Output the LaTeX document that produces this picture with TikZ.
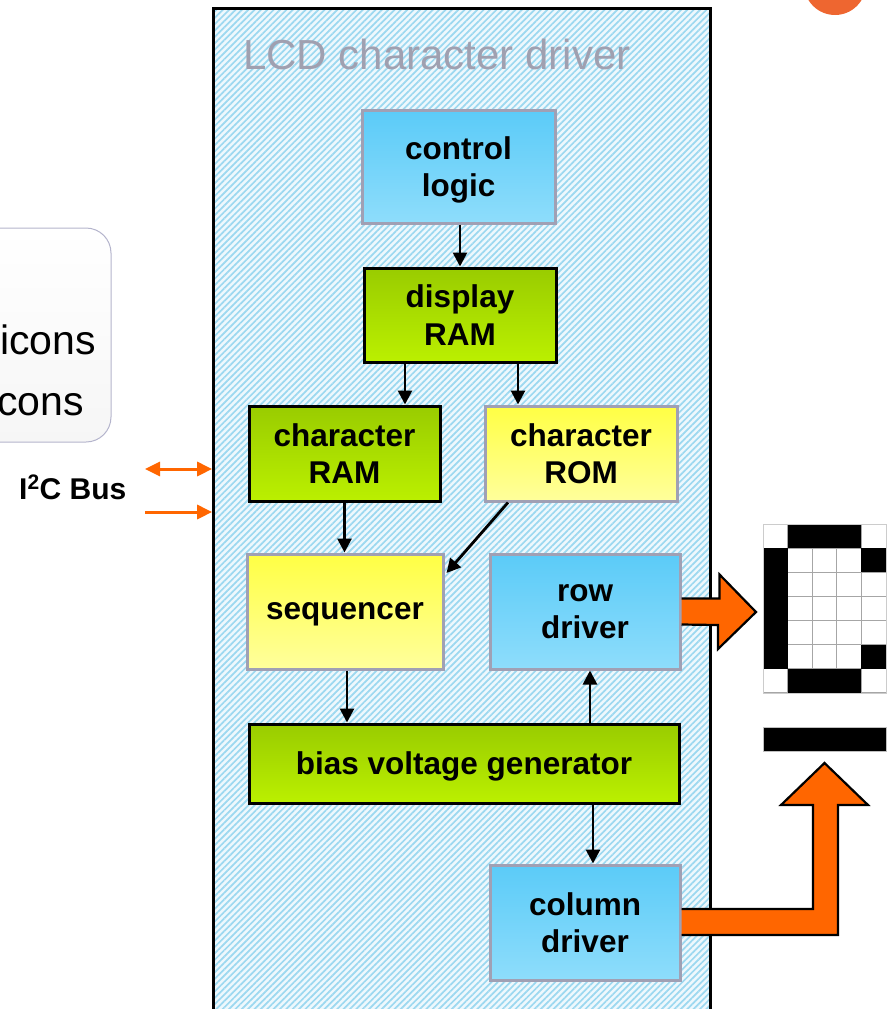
\documentclass[tikz,border=0pt]{standalone}
\usepackage{fontspec}
\setmainfont{Liberation Sans}
\usetikzlibrary{arrows.meta,patterns.meta}
\definecolor{blueT}{HTML}{5BCBF8}
\definecolor{blueB}{HTML}{8EDDFB}
\definecolor{greenT}{HTML}{99CC00}
\definecolor{greenB}{HTML}{BBF000}
\definecolor{yelT}{HTML}{FFFF44}
\definecolor{yelB}{HTML}{FFFF9C}
\definecolor{boxgray}{HTML}{A0A0B4}
\definecolor{titlegray}{HTML}{A0A0B0}
\definecolor{hatchblue}{HTML}{9CD8F0}
\definecolor{hatchbase}{HTML}{EEF8FD}
\definecolor{orng}{HTML}{FF6600}
\definecolor{dotorange}{HTML}{EE6630}
\definecolor{roundgray}{HTML}{B4B4CC}
\tikzset{
  blk/.style={draw, line width=3pt, align=center, inner sep=0pt, text depth=-5pt,
    font=\fontsize{31.5}{37.5}\selectfont\bfseries},
  oneline/.style={text depth=-12pt},
  bluebox/.style={blk, draw=boxgray, top color=blueT, bottom color=blueB},
  greenbox/.style={blk, draw=black, top color=greenT, bottom color=greenB},
  yelbox/.style={blk, draw=boxgray, top color=yelT, bottom color=yelB},
  arr/.style={line width=2.8pt, -{Triangle[length=14pt,width=14pt]}},
  busarr/.style={draw=orng, line width=3pt},
  bigarrow/.style={fill=orng, draw=black, line width=2.2pt, line join=miter},
  cell/.style={fill=white, draw=gray!70, line width=1pt},
}
\begin{document}
\begin{tikzpicture}[x=1pt,y=-1pt]
\useasboundingbox (0,0) rectangle (887,1009);

% left rounded box (clipped by page)
\draw[rounded corners=25pt, draw=roundgray, line width=1pt, top color=white, bottom color=gray!7]
  (-200,228) rectangle (111,442);
\node[anchor=base east, inner sep=0pt, font=\fontsize{41}{48}\selectfont] (icA) at (96,354) {icons};
\node[anchor=base east, inner sep=0pt, font=\fontsize{41}{48}\selectfont] (icB) at (84,415) {cons};

% orange dot at top right
\fill[dotorange] (835,-16) circle (31);

% main driver box
\node[draw=black, line width=3pt, minimum width=497pt, minimum height=1030pt, inner sep=0pt,
      preaction={fill=hatchbase},
      pattern={Lines[angle=45,distance=4.5pt,line width=1.7pt]}, pattern color=hatchblue]
      (drv) at (461.5,523) {};
\node[anchor=base west, inner sep=0pt, text=titlegray, font=\fontsize{42}{50}\selectfont]
  (title) at (243,69) {LCD character driver};

% I2C bus
\node[anchor=base west, inner sep=0pt, font=\fontsize{30}{34}\selectfont\bfseries]
  (bus) at (19,499) {I\textsuperscript{2}C Bus};
\coordinate (busA) at (145,469);
\coordinate (busB) at (145,512);
\draw[busarr, {Triangle[length=15pt,width=14pt]}-{Triangle[length=15pt,width=14pt]}]
  (busA) -- (busA -| drv.west);
\draw[busarr, -{Triangle[length=15pt,width=14pt]}] (busB) -- (busB -| drv.west);

% blocks
\node[bluebox, minimum width=193pt, minimum height=113pt] (ctrl) at (458.5,166.5) {control\\logic};
\node[greenbox, minimum width=192pt, minimum height=94pt] (dram) at (460,315) {display\\RAM};
\node[greenbox, minimum width=191pt, minimum height=95pt] (cram) at (344.5,453.5) {character\\RAM};
\node[yelbox, minimum width=192pt, minimum height=95pt] (crom) at (581,453.5) {character\\ROM};
\node[yelbox, oneline, minimum width=196pt, minimum height=115pt] (seq) at (345,611.5) {sequencer};
\node[bluebox, minimum width=190pt, minimum height=115pt] (row) at (585,611.5) {row\\driver};
\node[greenbox, oneline, minimum width=430pt, minimum height=79pt] (bias) at (464,763.5) {bias voltage generator};
\node[bluebox, minimum width=190pt, minimum height=115pt] (col) at (585,922.5) {column\\driver};

% black connectors
\draw[arr] ([xshift=1.5pt]ctrl.south) -- ([xshift=0pt]dram.north);
\draw[arr] ([xshift=-55pt]dram.south) -- ([xshift=60.5pt]cram.north);
\draw[arr] ([xshift=58pt]dram.south) -- ([xshift=-63pt]crom.north);
\draw[arr] (cram.south) -- (cram.south |- seq.north);
\draw[arr] ([xshift=-73pt]crom.south) -- ([xshift=2pt,yshift=38.5pt]seq.east);
\draw[arr] ([xshift=2pt]seq.south) -- ([xshift=2pt]seq.south |- bias.north);
\draw[arr] ([xshift=5pt]row.south |- bias.north) -- ([xshift=5pt]row.south);
\draw[arr] ([xshift=8pt]col.north |- bias.south) -- ([xshift=8pt]col.north);

% LCD character grid
\foreach \r in {0,...,6}
  \foreach \c in {0,...,4}
    \draw[cell] ({763+\c*24.6},{524+\r*24.14}) rectangle ++(24.6,24.14);
\foreach \c/\r in {1/0,2/0,3/0,0/1,4/1,0/2,0/3,0/4,0/5,4/5,1/6,2/6,3/6}
  \fill[black] ({763+\c*24.6},{524+\r*24.14}) rectangle ++(24.6,24.14);
\draw[gray!40, line width=1pt] (763,524) rectangle (886,693);
\fill[black] (763,727) rectangle (886,751);
\draw[gray!50, line width=0.8pt] (763,727) rectangle (886,751);

% orange block arrows
\draw[bigarrow] (row.east) ++(0,-13) -- ++(38,0) -- ++(0,-24) -- (756,612) -- (718,649)
  -- (718,625) -- ([yshift=-13pt]row.east);
\draw[bigarrow] ([yshift=13.5pt]col.east) -- (813,909) -- (813,805) -- (781,805) -- (824.5,763)
  -- (868,805) -- (838,805) -- (838,935) -- ([yshift=-12.5pt]col.east);
\end{tikzpicture}
\end{document}
